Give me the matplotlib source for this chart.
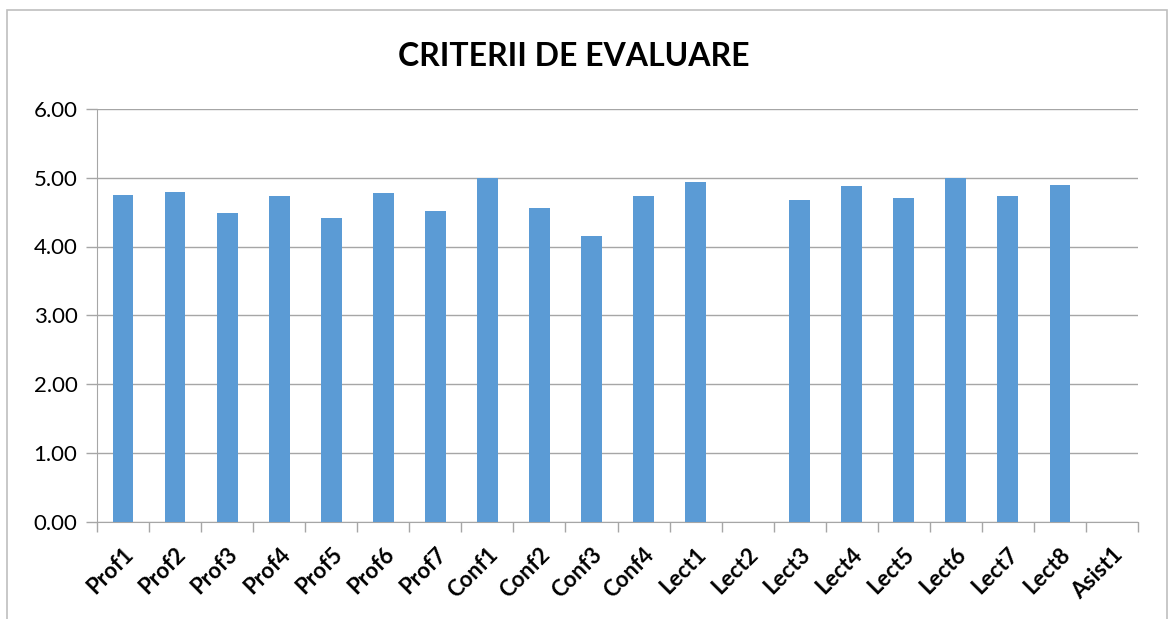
import numpy as np
import matplotlib.pyplot as plt
from matplotlib.patches import Rectangle

categories = ["Prof1", "Prof2", "Prof3", "Prof4", "Prof5", "Prof6", "Prof7",
              "Conf1", "Conf2", "Conf3", "Conf4",
              "Lect1", "Lect2", "Lect3", "Lect4", "Lect5", "Lect6", "Lect7", "Lect8",
              "Asist1"]
scores = [4.75, 4.79, 4.49, 4.74, 4.42, 4.78, 4.52,
          5.00, 4.56, 4.16, 4.74,
          4.94, 0.0, 4.67, 4.88, 4.70, 5.00, 4.74, 4.90,
          0.0]
yticks = [0, 1, 2, 3, 4, 5, 6]

plt.rcParams['font.family'] = ['Lato', 'DejaVu Sans']

fig = plt.figure(figsize=(11.74, 6.19), dpi=100)
ax = fig.add_axes([97 / 1174, 1 - 521.5 / 619, 1041 / 1174, 412.5 / 619])

x = np.arange(len(categories))
ax.bar(x, scores, width=0.4, color="#5B9BD5", zorder=3)

ax.set_xlim(-0.5, len(categories) - 0.5)
ax.set_ylim(0, 6)
ax.set_yticks(yticks)
ax.set_yticklabels([f"{v:.2f}" for v in yticks], fontsize=16)
ax.grid(axis="y", color="#A6A6A6", linewidth=1, zorder=0)

ax.set_xticks(x)
ax.set_xticklabels(categories, rotation=45, ha="right", rotation_mode="anchor",
                   fontsize=16, fontweight="bold")
ax.tick_params(axis="x", which="major", length=0, pad=16)
ax.set_xticks(np.arange(-0.5, len(categories), 1), minor=True)
ax.tick_params(axis="x", which="minor", length=7, color="#A6A6A6", width=1)
ax.tick_params(axis="y", length=8, color="#A6A6A6", width=1, pad=6)

for side in ["top", "right"]:
    ax.spines[side].set_visible(False)
for side in ["left", "bottom"]:
    ax.spines[side].set_color("#A6A6A6")

fig.text(574 / 1174, 1 - 56 / 619, "CRITERII DE EVALUARE", ha="center", va="center",
         fontsize=23, fontweight="bold")

fig.patches.append(Rectangle((7 / 1174, -0.05), 1160 / 1174, 1 - 10 / 619 + 0.05,
                             transform=fig.transFigure, fill=False,
                             edgecolor="#BFBFBF", linewidth=1.2))

plt.savefig("out.png", dpi=100)
